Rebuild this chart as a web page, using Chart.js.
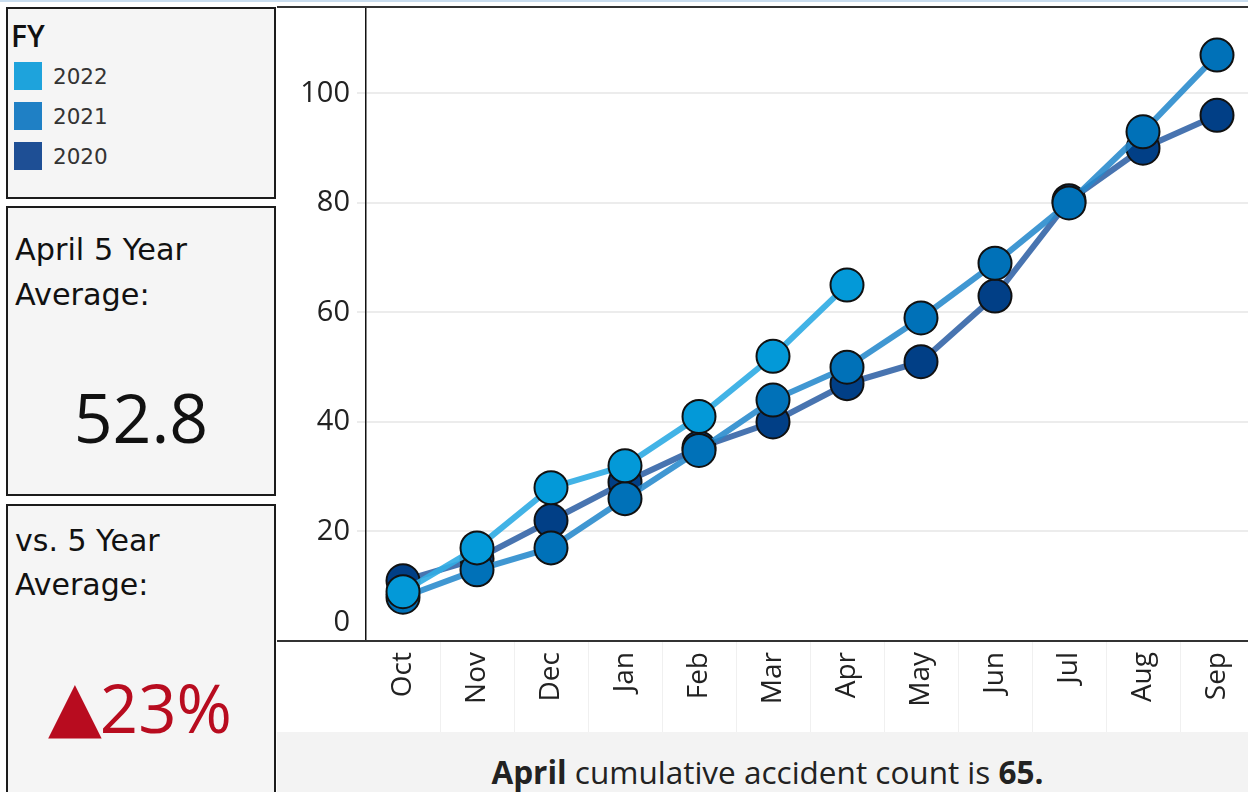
<!DOCTYPE html>
<html><head><meta charset="utf-8">
<script src="https://cdn.jsdelivr.net/npm/chart.js@4.4.1/dist/chart.umd.min.js"></script>
<style>
html,body{margin:0;padding:0;width:1248px;height:792px;overflow:hidden;background:#fff;position:relative;}
.abs{position:absolute;}
.panel{position:absolute;background:#f5f5f5;border:2px solid #1c1c1c;box-sizing:border-box;}
.dv{font-family:"DejaVu Sans",sans-serif;color:#111;white-space:nowrap;}
.os{font-family:"Open Sans",sans-serif;white-space:nowrap;}
.sw{position:absolute;left:14px;width:28px;height:28px;}
.lg{position:absolute;left:53px;font-family:"DejaVu Sans",sans-serif;font-size:21.5px;color:#333;line-height:28px;}
</style></head><body>
<div class="abs" style="left:0;top:0;width:1248px;height:2px;background:#c9ddef"></div>

<div class="panel" style="left:6px;top:7px;width:270px;height:192px"></div>
<div class="abs os" style="left:11px;top:18px;font-size:30px;font-weight:600;line-height:36px;color:#111">FY</div>
<div class="sw" style="top:62px;background:#1ea3dc"></div><div class="lg" style="top:63px" id="l0"></div>
<div class="sw" style="top:102px;background:#1f80c5"></div><div class="lg" style="top:103px" id="l1"></div>
<div class="sw" style="top:142px;background:#1e4f95"></div><div class="lg" style="top:143px" id="l2"></div>

<div class="panel" style="left:6px;top:206px;width:270px;height:290px"></div>
<div class="abs dv" style="left:15px;top:228px;font-size:30.3px;line-height:44.5px">April 5 Year<br>Average:</div>
<div class="abs os" id="avg" style="left:6px;width:270px;text-align:center;top:377px;font-size:68px;line-height:80px;color:#111"></div>

<div class="panel" style="left:6px;top:504px;width:270px;height:300px"></div>
<div class="abs dv" style="left:15px;top:519px;font-size:30px;line-height:44px">vs. 5 Year<br>Average:</div>
<div class="abs" id="pct" style="left:48px;top:667px;line-height:80px;color:#b80c1f;white-space:nowrap"></div>

<div class="abs" style="left:277px;top:6px;width:971px;height:2px;background:#333"></div>
<canvas id="c" class="abs" style="left:277px;top:8px" width="977" height="724"></canvas>
<div class="abs" style="left:277px;top:640px;width:971px;height:2px;background:#333"></div>
<div class="abs" style="left:277px;top:732px;width:971px;height:60px;background:#f3f3f3"></div>
<div class="abs os" style="left:282px;top:751px;width:971px;text-align:center;font-size:31.5px;line-height:42px;color:#222" id="cap"></div>

<script>
const months = ['Oct','Nov','Dec','Jan','Feb','Mar','Apr','May','Jun','Jul','Aug','Sep'];
const seriesNames = ['2022','2021','2020'];
const fy2022 = [9,17,28,32,41,52,65,null,null,null,null,null];
const fy2021 = [8,13,17,26,34.8,44,50,59,69,80,93,107];
const fy2020 = [11,15,22,29,35.3,40,47,51,63,80.4,90,96];
const yTicks = [0,20,40,60,80,100];
const avgValue = '52.8';
const pctArrow = '▲';
const pctValue = '23%';
const captionMonth = 'April';
const captionCount = '65.';

document.getElementById('l0').textContent = seriesNames[0];
document.getElementById('l1').textContent = seriesNames[1];
document.getElementById('l2').textContent = seriesNames[2];
document.getElementById('avg').textContent = avgValue;
document.getElementById('pct').innerHTML = '<span style="font-family:\'DejaVu Sans\';font-size:70px;vertical-align:top;position:relative;top:-1px">'+pctArrow+'</span><span style="font-family:\'Open Sans\';font-size:67px;vertical-align:top;margin-left:-2px">'+pctValue+'</span>';
document.getElementById('cap').innerHTML = '<b style="font-weight:700">'+captionMonth+'</b> cumulative accident count is <b style="font-weight:700">'+captionCount+'</b>';

const lineCols = ['rgba(50,172,228,0.92)','rgba(38,137,204,0.88)','rgba(40,92,162,0.85)'];
const markCols = ['#0399d8','#0071b8','#013f86'];

const yLabelPlugin = {
  id:'yLabels',
  afterDraw(chart){
    const s = chart.scales.y, ctx = chart.ctx;
    ctx.save();
    ctx.font = '29px "Open Sans"';
    ctx.fillStyle = '#222';
    ctx.textAlign = 'right';
    ctx.textBaseline = 'middle';
    yTicks.forEach(v => {
      let y = s.getPixelForValue(v);
      if (y > s.bottom - 20) y = s.bottom - 18;
      ctx.fillText(String(v), s.right - 16, y);
    });
    const x = chart.scales.x;
    ctx.strokeStyle = '#f0f0f0';
    ctx.lineWidth = 1;
    const half = (x.getPixelForValue(1) - x.getPixelForValue(0)) / 2;
    for (let i = 0; i < months.length; i++) {
      const px = Math.round(x.getPixelForValue(i) + half) + 0.5;
      ctx.beginPath(); ctx.moveTo(px, x.top); ctx.lineTo(px, x.bottom); ctx.stroke();
    }
    ctx.restore();
  }
};

function ds(label, data, i){
  return {label, data, borderColor: lineCols[i], borderWidth: 6, tension: 0,
    pointRadius: 16.5, pointHoverRadius: 16.5, pointBackgroundColor: markCols[i],
    pointBorderColor: '#111', pointBorderWidth: 2, spanGaps: false, clip: false};
}

new Chart(document.getElementById('c'), {
  type: 'line',
  data: { labels: months, datasets: [ds(seriesNames[0], fy2022, 0), ds(seriesNames[1], fy2021, 1), ds(seriesNames[2], fy2020, 2)] },
  options: {
    responsive: false, animation: false, devicePixelRatio: 1,
    layout: { padding: 0, autoPadding: false },
    plugins: { legend: { display: false }, tooltip: { enabled: false } },
    scales: {
      x: { type: 'category', offset: true,
        grid: { display: false, drawTicks: false }, border: { display: false },
        ticks: { minRotation: 90, maxRotation: 90, autoSkip: false, padding: 11, color: '#222',
          font: { family: 'Open Sans', size: 28 } },
        afterFit: s => { s.height = 91; s.paddingLeft = 0; s.paddingRight = 0; } },
      y: { min: 0, max: 115.6,
        afterBuildTicks: s => { s.ticks = yTicks.map(v => ({ value: v })); },
        grid: { color: '#ececec', lineWidth: 2, tickLength: 9, drawTicks: true },
        border: { display: true, color: '#111', width: 1.5 },
        ticks: { display: false },
        afterFit: s => { s.width = 89; s.paddingTop = 0; s.paddingBottom = 0; } }
    }
  },
  plugins: [yLabelPlugin]
});
</script>
</body></html>
